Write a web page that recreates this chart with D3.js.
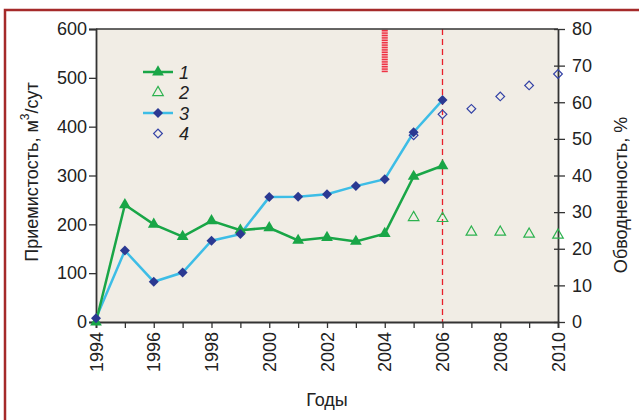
<!DOCTYPE html>
<html>
<head>
<meta charset="utf-8">
<script src="https://cdn.jsdelivr.net/npm/d3@7"></script>
<style>
  body { margin: 0; background: #fff; }
  svg { display: block; font-family: "Liberation Sans", Arial, sans-serif; }
</style>
</head>
<body>
<svg id="chart" width="639" height="420"></svg>
<script>
// приемистость, м3/сут (факт) — серия 1
const yearsFact = [1994, 1995, 1996, 1997, 1998, 1999, 2000, 2001, 2002, 2003, 2004, 2005, 2006];
const injFact = [0, 240, 200, 175, 207, 188, 193, 167, 173, 165, 181, 298, 320];
// прогноз приемистости — серия 2
const yearsPlan = [2005, 2006, 2007, 2008, 2009, 2010];
const injPlan = [214, 212, 184, 184, 180, 178];
// обводненность, % — серии 3 и 4
const cutFact = [1, 19.5, 11, 13.5, 22.2, 24, 34.1, 34.2, 34.9, 37.1, 39, 51.8, 60.6];
const cutPlan = [51, 56.7, 58.2, 61.6, 64.6, 67.7];

const leftTicks = [0, 100, 200, 300, 400, 500, 600];
const rightTicks = [0, 10, 20, 30, 40, 50, 60, 70, 80];
const yearTicks = [1994, 1996, 1998, 2000, 2002, 2004, 2006, 2008, 2010];
const legendLabels = ["1", "2", "3", "4"];

const svg = d3.select("#chart");
const m = { l: 96, r: 558, t: 29, b: 322 };
const fs = 18;

const x = d3.scaleLinear().domain([1994, 2010]).range([m.l, m.r]);
const yL = d3.scaleLinear().domain([0, 600]).range([m.b, m.t]);
const yR = d3.scaleLinear().domain([0, 80]).range([m.b, m.t]);

const green = "#19a647", blue = "#3dbde6", navy = "#2b3992";

// рамка
svg.append("path").attr("d", "M5,420 V10 H639")
  .attr("fill", "none").attr("stroke", "#a52a2a").attr("stroke-width", 2.5);

// фон области графика
svg.append("rect").attr("x", m.l).attr("y", m.t)
  .attr("width", m.r - m.l).attr("height", m.b - m.t).attr("fill", "#f1ede5");

// вертикальная метка 2004 (штриховка)
const hx = x(2004);
svg.append("rect").attr("x", hx - 3).attr("y", m.t).attr("width", 6).attr("height", 43)
  .attr("fill", "#f6a0aa").attr("opacity", 0.6);
for (let yy = m.t + 1; yy < 72; yy += 2.4) {
  svg.append("rect").attr("x", hx - 3).attr("y", yy).attr("width", 6).attr("height", 1.4)
    .attr("fill", "#ee3344");
}

// пунктир 2006
svg.append("line").attr("x1", x(2006)).attr("x2", x(2006)).attr("y1", m.t).attr("y2", m.b)
  .attr("stroke", "#e8202a").attr("stroke-width", 1.3).attr("stroke-dasharray", "6,4");

// оси
const axL = svg.append("g").attr("transform", `translate(${m.l},0)`)
  .call(d3.axisLeft(yL).tickValues(leftTicks).tickSize(7).tickPadding(2));
const axR = svg.append("g").attr("transform", `translate(${m.r},0)`)
  .call(d3.axisRight(yR).tickValues(rightTicks).tickSizeInner(7).tickSizeOuter(0).tickPadding(7));
axR.selectAll(".tick line").attr("x1", -4);
const axB = svg.append("g").attr("transform", `translate(0,${m.b})`)
  .call(d3.axisBottom(x).tickValues(d3.range(1994, 2011)).tickSize(6).tickFormat(""));
const axLabels = svg.append("g").attr("transform", `translate(0,${m.b})`);
yearTicks.forEach(yr => {
  axLabels.append("text").attr("transform", `translate(${x(yr) + 6.5},10) rotate(-90)`)
    .attr("text-anchor", "end").attr("font-size", fs).attr("fill", "#222").text(yr);
});
svg.append("line").attr("x1", m.l).attr("x2", m.r).attr("y1", m.t).attr("y2", m.t)
  .attr("stroke", "#333").attr("stroke-width", 1.5);
[axL, axR, axB].forEach(a => {
  a.selectAll(".domain").attr("stroke", "#333").attr("stroke-width", 1.8);
  a.selectAll(".tick line").attr("stroke", "#333").attr("stroke-width", 1.3);
  a.selectAll("text").attr("font-size", fs).attr("fill", "#222").attr("font-family", "Liberation Sans, Arial, sans-serif");
});

// подписи осей
const tl = svg.append("text").attr("transform", "translate(38,172) rotate(-90)")
  .attr("text-anchor", "middle").attr("font-size", fs).attr("fill", "#222");
tl.append("tspan").text("Приемистость, м");
tl.append("tspan").attr("dy", -9).attr("font-size", 12).text("3");
tl.append("tspan").attr("dy", 9).text("/сут");
svg.append("text").attr("transform", "translate(627,195) rotate(-90)")
  .attr("text-anchor", "middle").attr("font-size", fs).attr("fill", "#222").text("Обводненность, %");
svg.append("text").attr("x", 327).attr("y", 406).attr("text-anchor", "middle")
  .attr("font-size", fs).attr("fill", "#222").text("Годы");

const tri = d3.symbol().type(d3.symbolTriangle).size(60);
const triH = d3.symbol().type(d3.symbolTriangle).size(48);
const dia = d3.symbol().type(d3.symbolSquare).size(50);
const diaH = d3.symbol().type(d3.symbolSquare).size(38);

// серия 3 — обводненность факт
svg.append("path").datum(cutFact)
  .attr("d", d3.line().x((d, i) => x(yearsFact[i])).y(d => yR(d)))
  .attr("fill", "none").attr("stroke", blue).attr("stroke-width", 2.5);
// серия 1 — приемистость факт
svg.append("path").datum(injFact)
  .attr("d", d3.line().x((d, i) => x(yearsFact[i])).y(d => yL(d)))
  .attr("fill", "none").attr("stroke", green).attr("stroke-width", 2.5);

svg.selectAll(".p1").data(injFact).join("path")
  .attr("transform", (d, i) => `translate(${x(yearsFact[i])},${yL(d)})`)
  .attr("d", tri).attr("fill", green);
svg.selectAll(".p2").data(injPlan).join("path")
  .attr("transform", (d, i) => `translate(${x(yearsPlan[i])},${yL(d)})`)
  .attr("d", triH).attr("fill", "none").attr("stroke", "#2db24f").attr("stroke-width", 1.2);
svg.selectAll(".p4").data(cutPlan).join("path")
  .attr("transform", (d, i) => `translate(${x(yearsPlan[i])},${yR(d)}) rotate(45)`)
  .attr("d", diaH).attr("fill", "none").attr("stroke", "#3443a6").attr("stroke-width", 1.2);
svg.selectAll(".p3").data(cutFact).join("path")
  .attr("transform", (d, i) => `translate(${x(yearsFact[i])},${yR(d)}) rotate(45)`)
  .attr("d", dia).attr("fill", navy);

// легенда
const lg = svg.append("g");
legendLabels.forEach((lab, i) => {
  const yy = 72 + i * 20.5;
  if (i === 0 || i === 2) {
    lg.append("line").attr("x1", 143).attr("x2", 173).attr("y1", yy).attr("y2", yy)
      .attr("stroke", i === 0 ? green : blue).attr("stroke-width", 2.5);
  }
  const sym = [tri, triH, dia, diaH][i];
  const rot = i >= 2 ? " rotate(45)" : "";
  const p = lg.append("path").attr("transform", `translate(158,${yy})${rot}`).attr("d", sym);
  if (i === 0) p.attr("fill", green);
  if (i === 1) p.attr("fill", "none").attr("stroke", "#2db24f").attr("stroke-width", 1.2);
  if (i === 2) p.attr("fill", navy);
  if (i === 3) p.attr("fill", "none").attr("stroke", "#3443a6").attr("stroke-width", 1.2);
  lg.append("text").attr("x", 179).attr("y", yy + 6.5).attr("font-size", fs)
    .attr("font-style", "italic").attr("fill", "#222").text(lab);
});
</script>
</body>
</html>
